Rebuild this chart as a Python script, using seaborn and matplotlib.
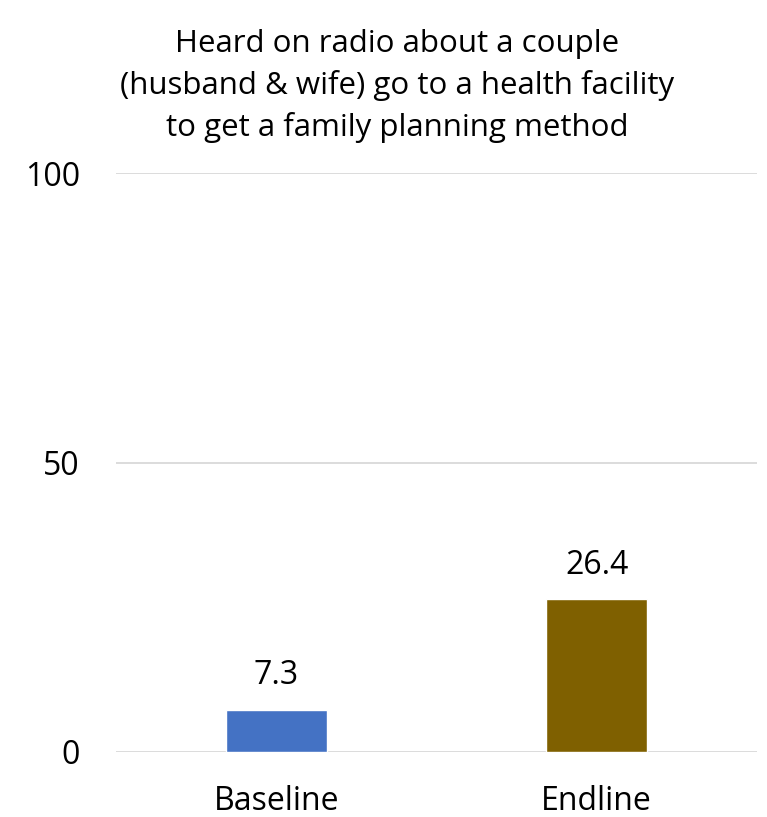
import matplotlib
matplotlib.use("Agg")
import matplotlib.pyplot as plt
import seaborn as sns
import pandas as pd

categories = ["Baseline", "Endline"]
values = [7.3, 26.4]
bar_colors = ["#4472C4", "#7F6000"]
title = "Heard on radio about a couple\n(husband & wife) go to a health facility\nto get a family planning method"
y_ticks = [0, 50, 100]

sns.set_theme(style="white")
plt.rcParams["font.family"] = ["Open Sans", "DejaVu Sans"]
plt.rcParams["text.color"] = "#000000"
plt.rcParams["xtick.color"] = "#000000"
plt.rcParams["ytick.color"] = "#000000"

df = pd.DataFrame({"period": categories, "pct": values})

fig = plt.figure(figsize=(7.67, 8.17), dpi=100)
ax = fig.add_axes([116 / 767, 1 - 752 / 817, (757 - 116) / 767, (752 - 173) / 817])

sns.barplot(data=df, x="period", y="pct", hue="period", palette=bar_colors,
            width=0.315, legend=False, ax=ax, saturation=1)

ax.set_ylim(0, 100)
ax.set_xlim(-0.5, 1.5)
ax.set_yticks(y_ticks)
ax.yaxis.grid(True, color="#D9D9D9", linewidth=1.3)
ax.set_axisbelow(True)
for s in ["top", "right", "left", "bottom"]:
    ax.spines[s].set_visible(False)
ax.tick_params(axis="y", length=0, pad=26, labelsize=23)
ax.tick_params(axis="x", length=0, pad=24, labelsize=23)
ax.set_xlabel("")
ax.set_ylabel("")

for i, v in enumerate(values):
    ax.text(i, v + 3.0, f"{v:.1f}", ha="center", va="bottom", fontsize=23, color="#000000")

fig.text(397 / 767, 1 - 86 / 817, title, ha="center", va="center", fontsize=22.5,
         linespacing=1.45, color="#000000")

fig.savefig("out.png", dpi=100)
